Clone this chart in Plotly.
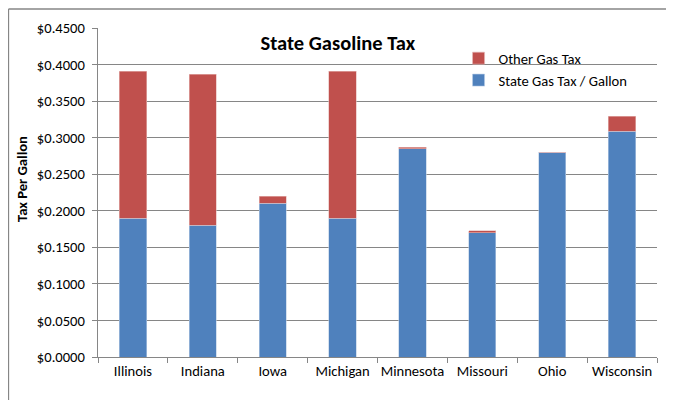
import plotly.graph_objects as go

states = ["Illinois", "Indiana", "Iowa", "Michigan", "Minnesota", "Missouri", "Ohio", "Wisconsin"]
state_tax = [0.190, 0.180, 0.210, 0.190, 0.285, 0.170, 0.280, 0.309]
other_tax = [0.201, 0.207, 0.010, 0.201, 0.002, 0.003, 0.000, 0.020]
y_ticks = [0.0, 0.05, 0.10, 0.15, 0.20, 0.25, 0.30, 0.35, 0.40, 0.45]

FONT = "Carlito, Lato, sans-serif"
FS = 14.6
W, H = 666, 392
L, R, T, B = 90, 17, 20, 43
PW, PH = W - L - R, H - T - B

fig = go.Figure()
fig.add_trace(go.Bar(x=states, y=state_tax, name="State Gas Tax / Gallon",
                     marker=dict(color="#4F81BD", line=dict(color="#B9CDE5", width=0.6))))
fig.add_trace(go.Bar(x=states, y=other_tax, name="Other Gas Tax",
                     marker=dict(color="#C0504D", line=dict(color="#E6B9B8", width=0.6))))

fig.update_layout(
    barmode="stack",
    bargap=0.61,
    width=W, height=H,
    margin=dict(l=L, r=R, t=T, b=B),
    paper_bgcolor="white", plot_bgcolor="white",
    font=dict(family=FONT, color="#000000"),
    title=dict(text="<b>State Gasoline Tax</b>", font=dict(size=20.5, family=FONT),
               x=0.429, xref="paper", xanchor="center", y=0.976, yref="paper", yanchor="top",
               pad=dict(t=0), automargin=False),
    legend=dict(x=0.645, y=0.957, xanchor="left", yanchor="top", traceorder="reversed",
                font=dict(size=FS, family=FONT), bgcolor="rgba(0,0,0,0)",
                itemwidth=30, tracegroupgap=2),
    showlegend=True,
)
fig.update_xaxes(showline=True, linecolor="#868686", linewidth=1.3, automargin=False,
                 ticks="outside", tickson="boundaries", ticklen=5, tickcolor="#868686",
                 tickangle=0, tickfont=dict(size=FS, family=FONT), showgrid=False)
fig.update_yaxes(range=[0, 0.45], tickvals=y_ticks, tickformat="$.4f", automargin=False,
                 showline=True, linecolor="#868686", linewidth=1.3,
                 ticks="outside", ticklen=5, tickcolor="#868686", ticklabelstandoff=4,
                 showgrid=True, gridcolor="#868686", gridwidth=1,
                 tickfont=dict(size=FS, family=FONT))

# y-axis title (placed like the reference, slightly above the plot centre)
fig.add_annotation(text="<b>Tax Per Gallon</b>", textangle=-90, xref="paper", yref="paper",
                   x=-0.136, y=0.541, xanchor="center", yanchor="middle", showarrow=False,
                   font=dict(size=FS, family=FONT, color="#000000"))

# outer chart border (top and left edges visible, the rest is cropped in the reference)
fig.add_shape(type="line", xref="paper", yref="paper",
              x0=-(L - 0.5) / PW, y0=1 + (T - 1) / PH, x1=1 + (R + 10) / PW, y1=1 + (T - 1) / PH,
              line=dict(color="#868686", width=1.3), layer="below")
fig.add_shape(type="line", xref="paper", yref="paper",
              x0=-(L - 0.5) / PW, y0=1 + (T - 1) / PH, x1=-(L - 0.5) / PW, y1=-(B + 10) / PH,
              line=dict(color="#868686", width=1.3), layer="below")

fig.write_html("out.html")
